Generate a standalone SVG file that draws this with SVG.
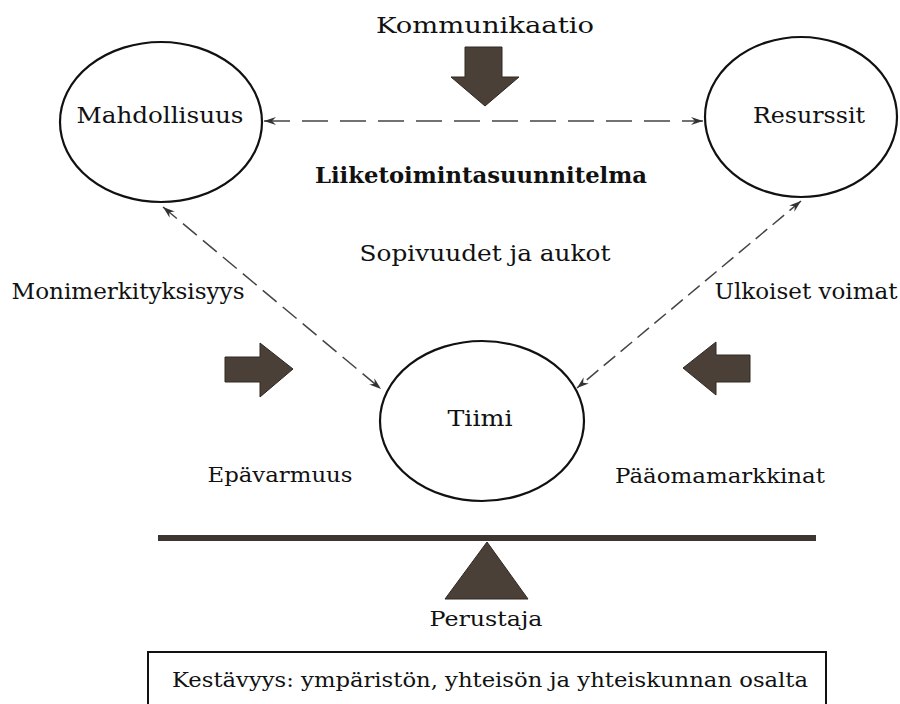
<svg xmlns="http://www.w3.org/2000/svg" width="900" height="704" viewBox="0 0 900 704">
<defs>
<style>
.node{fill:#fff;stroke:#111;stroke-width:2.2}
.lbl{font-family:"DejaVu Serif","Liberation Serif",serif;font-size:23px;fill:#111;text-anchor:middle}
.sm{font-size:21px}
.xs{font-size:20px}
.bold{font-weight:bold}
.conn{stroke:#444;stroke-width:1.5;fill:none}
.block{fill:#4a4038;stroke:#2e2822;stroke-width:1}
</style>
<marker id="ah" viewBox="0 0 12 8" refX="12" refY="4" markerWidth="12" markerHeight="8" markerUnits="userSpaceOnUse" orient="auto-start-reverse">
<path d="M0,0 L12,4 L0,8 L4,4 z" fill="#333"/>
</marker>
</defs>
<rect width="900" height="704" fill="#fff"/>

<g id="connectors">
<line class="conn" x1="264" y1="121" x2="703" y2="121" stroke-dasharray="26 12" marker-start="url(#ah)" marker-end="url(#ah)"/>
<line class="conn" x1="163" y1="207" x2="381" y2="389" stroke-dasharray="18 8" marker-start="url(#ah)" marker-end="url(#ah)"/>
<line class="conn" x1="801" y1="201" x2="577" y2="388" stroke-dasharray="15 7" marker-start="url(#ah)" marker-end="url(#ah)"/>
</g>

<g id="mahdollisuus">
<ellipse class="node" cx="161" cy="122" rx="101" ry="80"/>
<text class="lbl" x="160" y="123" textLength="167" lengthAdjust="spacingAndGlyphs">Mahdollisuus</text>
</g>
<g id="resurssit">
<ellipse class="node" cx="801" cy="117" rx="96" ry="80"/>
<text class="lbl" x="809" y="123" textLength="112" lengthAdjust="spacingAndGlyphs">Resurssit</text>
</g>
<g id="tiimi">
<ellipse class="node" cx="482" cy="421" rx="102" ry="80"/>
<text class="lbl" x="480" y="426" textLength="65" lengthAdjust="spacingAndGlyphs">Tiimi</text>
</g>

<g id="kommunikaatio">
<text class="lbl" x="485" y="33" textLength="218" lengthAdjust="spacingAndGlyphs">Kommunikaatio</text>
<path class="block" d="M465,47 L502,47 L502,77 L519,77 L485,106 L451,77 L465,77 Z"/>
</g>

<text class="lbl bold" x="481" y="183" textLength="332" lengthAdjust="spacingAndGlyphs">Liiketoimintasuunnitelma</text>
<text class="lbl" x="485" y="261" textLength="251" lengthAdjust="spacingAndGlyphs">Sopivuudet ja aukot</text>

<g id="monimerkityksisyys">
<text class="lbl" x="128" y="299" textLength="233" lengthAdjust="spacingAndGlyphs">Monimerkityksisyys</text>
<path class="block" d="M225,357 L260,357 L260,343 L293,369 L260,397 L260,382 L225,382 Z"/>
<text class="lbl sm" x="280" y="482" textLength="145" lengthAdjust="spacingAndGlyphs">Epävarmuus</text>
</g>

<g id="ulkoiset">
<text class="lbl" x="806" y="299" textLength="183" lengthAdjust="spacingAndGlyphs">Ulkoiset voimat</text>
<path class="block" d="M750,355 L716,355 L716,342 L683,368 L716,395 L716,382 L750,382 Z"/>
<text class="lbl sm" x="720" y="483" textLength="210" lengthAdjust="spacingAndGlyphs">Pääomamarkkinat</text>
</g>

<g id="perustaja">
<rect x="158" y="535" width="658" height="6" fill="#3d3630"/>
<path class="block" d="M487,542 L528,599 L445,599 Z"/>
<text class="lbl xs" x="486" y="626" textLength="113" lengthAdjust="spacingAndGlyphs">Perustaja</text>
</g>

<g id="kestavyys">
<rect x="148" y="652" width="678" height="70" fill="none" stroke="#111" stroke-width="2"/>
<text class="lbl xs" x="490" y="687" textLength="636" lengthAdjust="spacingAndGlyphs">Kestävyys: ympäristön, yhteisön ja yhteiskunnan osalta</text>
</g>
</svg>
